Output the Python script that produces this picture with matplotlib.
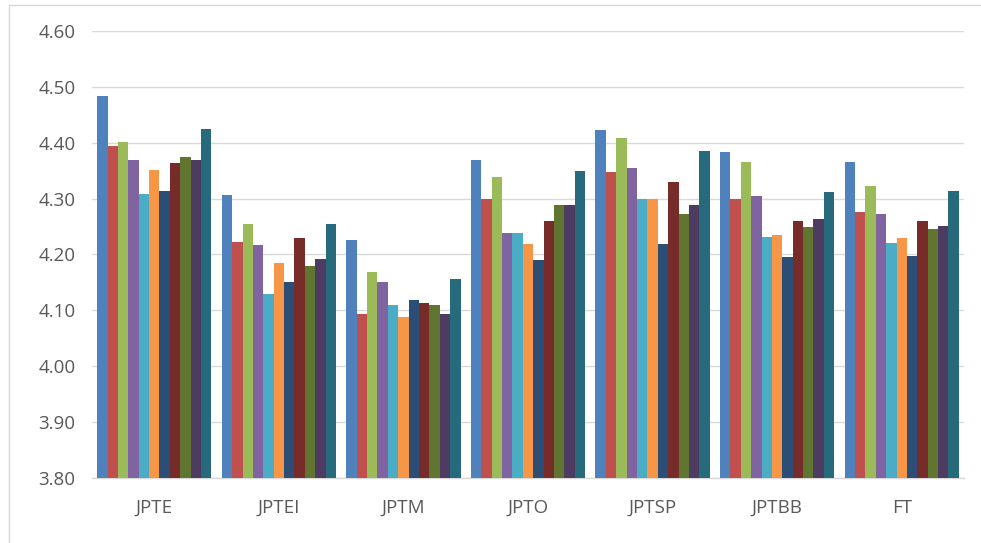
import matplotlib
matplotlib.use("Agg")
import matplotlib.pyplot as plt
import numpy as np
from matplotlib.patches import Rectangle

categories = ["JPTE", "JPTEI", "JPTM", "JPTO", "JPTSP", "JPTBB", "FT"]

s1 = [4.484, 4.306, 4.226, 4.369, 4.422, 4.383, 4.365]
s2 = [4.394, 4.222, 4.093, 4.299, 4.347, 4.299, 4.276]
s3 = [4.401, 4.254, 4.169, 4.338, 4.409, 4.365, 4.323]
s4 = [4.369, 4.217, 4.150, 4.239, 4.355, 4.305, 4.273]
s5 = [4.308, 4.129, 4.109, 4.239, 4.299, 4.231, 4.220]
s6 = [4.351, 4.184, 4.088, 4.218, 4.299, 4.234, 4.230]
s7 = [4.314, 4.151, 4.119, 4.189, 4.218, 4.196, 4.197]
s8 = [4.364, 4.229, 4.113, 4.260, 4.329, 4.260, 4.259]
s9 = [4.374, 4.179, 4.109, 4.288, 4.272, 4.249, 4.245]
s10 = [4.369, 4.191, 4.093, 4.288, 4.288, 4.264, 4.250]
s11 = [4.425, 4.254, 4.155, 4.349, 4.385, 4.312, 4.313]

series = [s1, s2, s3, s4, s5, s6, s7, s8, s9, s10, s11]
colors = ["#4F81BD", "#C0504D", "#9BBB59", "#8064A2", "#4BACC6", "#F79646",
          "#2C4D75", "#772C2A", "#5F7530", "#4D3B62", "#276A7C"]

yticks = [3.80, 3.90, 4.00, 4.10, 4.20, 4.30, 4.40, 4.50, 4.60]

plt.rcParams["font.family"] = ["Open Sans", "DejaVu Sans"]

fig = plt.figure(figsize=(9.81, 5.43), dpi=100)
fig.patch.set_facecolor("white")

# outer chart frame
fig.patches.append(Rectangle((9 / 981, -0.05), 1.2, 1 - 5 / 543 + 0.05,
                             transform=fig.transFigure, fill=False,
                             edgecolor="#D9D9D9", linewidth=1.0, zorder=0))

ax = fig.add_axes([92 / 981, 1 - 477.7 / 543, (964 - 92) / 981, (477.7 - 31) / 543])

n = len(series)
width = 1.0 / (n + 1)
x = np.arange(len(categories))
for i, (vals, c) in enumerate(zip(series, colors)):
    offs = (i - (n - 1) / 2) * width
    ax.bar(x + offs, np.array(vals) - 3.8, width=width, bottom=3.8,
           color=c, edgecolor="none", zorder=3)

ax.set_xlim(-0.5, len(categories) - 0.5)
ax.set_ylim(3.8, 4.6)
ax.set_yticks(yticks)
ax.set_yticklabels([f"{v:.2f}" for v in yticks])
ax.set_xticks(x)
ax.set_xticklabels(categories)

ax.grid(axis="y", color="#D9D9D9", linewidth=1.0, zorder=0)
for side in ["top", "right", "left"]:
    ax.spines[side].set_visible(False)
ax.spines["bottom"].set_color("#D9D9D9")
ax.spines["bottom"].set_linewidth(1.0)

ax.tick_params(axis="y", length=0, pad=12, labelsize=13.5, labelcolor="#595959")
ax.tick_params(axis="x", length=0, pad=15, labelsize=13.5, labelcolor="#595959")

fig.savefig("out.png", dpi=100)
